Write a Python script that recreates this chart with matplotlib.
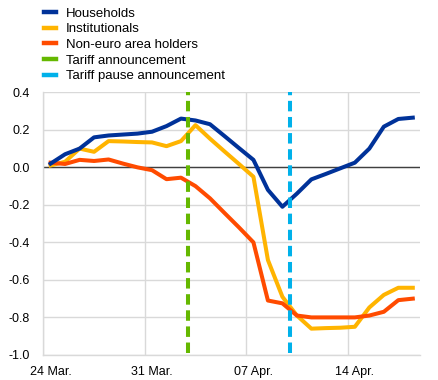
import matplotlib
matplotlib.use('Agg')
import matplotlib.pyplot as plt

plt.rcParams['font.family'] = ['Liberation Sans', 'DejaVu Sans']
plt.rcParams['font.size'] = 9

# daily observations, 24 Mar. - 18 Apr.
days = list(range(26))
tick_pos = [0, 7, 14, 21]
tick_labels = ['24 Mar.', '31 Mar.', '07 Apr.', '14 Apr.']

households = [0.02, 0.07, 0.10, 0.16, 0.17, 0.175, 0.18, 0.19, 0.22, 0.26,
              0.25, 0.23, 0.167, 0.103, 0.04, -0.12, -0.21, -0.14, -0.064,
              -0.035, -0.005, 0.025, 0.10, 0.217, 0.258, 0.265]
institutionals = [0.01, 0.03, 0.10, 0.083, 0.14, 0.138, 0.135, 0.133, 0.113, 0.14,
                  0.225, 0.153, 0.085, 0.018, -0.05, -0.494, -0.69, -0.79, -0.86,
                  -0.857, -0.855, -0.85, -0.747, -0.68, -0.642, -0.642]
non_euro = [0.025, 0.018, 0.04, 0.034, 0.042, 0.02, 0.0, -0.015, -0.063, -0.055,
            -0.10, -0.165, -0.243, -0.32, -0.40, -0.71, -0.725, -0.79, -0.80,
            -0.80, -0.80, -0.80, -0.79, -0.77, -0.708, -0.70]

tariff_day = 9.5        # between 02 Apr. and 03 Apr.
tariff_pause_day = 16.5  # between 09 Apr. and 10 Apr.

fig = plt.figure(figsize=(4.38, 3.80), dpi=100)
ax = fig.add_axes([0.099, 0.066, 0.860, 0.691])

ax.plot(days, households, color='#003299', lw=2.9, label='Households', zorder=4)
ax.plot(days, institutionals, color='#FFB400', lw=2.9, label='Institutionals', zorder=3)
ax.plot(days, non_euro, color='#FF4B00', lw=2.9, label='Non-euro area holders', zorder=3)
ax.plot([tariff_day, tariff_day], [-0.99, 0.4], color='#65B800', lw=2.9,
        dashes=(2.6, 1.4), label='Tariff announcement', zorder=5)
ax.plot([tariff_pause_day, tariff_pause_day], [-0.99, 0.4], color='#00B1EA', lw=2.9,
        dashes=(2.6, 1.4), label='Tariff pause announcement', zorder=5)

ax.axhline(0, color='#404040', lw=1.0, zorder=2)

ax.set_xlim(-0.5, 25.5)
ax.set_ylim(-1.0, 0.4)
ax.set_yticks([0.4, 0.2, 0.0, -0.2, -0.4, -0.6, -0.8, -1.0])
ax.set_yticklabels(['%.1f' % v for v in ax.get_yticks()])
ax.set_xticks(tick_pos)
ax.set_xticklabels(tick_labels)
ax.set_xticks([-0.5, 6.5, 13.5, 20.5], minor=True)
ax.tick_params(axis='both', which='both', length=0, colors='black', labelsize=9)
ax.tick_params(axis='y', pad=10)
ax.tick_params(axis='x', pad=8)

ax.grid(axis='y', color='#d9d9d9', lw=1.0, zorder=0)
ax.grid(axis='x', which='minor', color='#d9d9d9', lw=1.0, zorder=0)
for s in ['top', 'right']:
    ax.spines[s].set_visible(False)
for s in ['left', 'bottom']:
    ax.spines[s].set_color('#d9d9d9')
    ax.spines[s].set_linewidth(1.0)

# legend handles: solid short blocks as in the source chart
from matplotlib.lines import Line2D
handles = [Line2D([], [], color=c, lw=3.2) for c in
           ['#003299', '#FFB400', '#FF4B00', '#65B800', '#00B1EA']]
labels = ['Households', 'Institutionals', 'Non-euro area holders',
          'Tariff announcement', 'Tariff pause announcement']
fig.legend(handles, labels, loc='upper left', bbox_to_anchor=(0.073, 1.012),
           frameon=False, handlelength=0.95, handletextpad=0.7,
           labelspacing=0.26, fontsize=9.5)

fig.savefig('out.png', dpi=100)
